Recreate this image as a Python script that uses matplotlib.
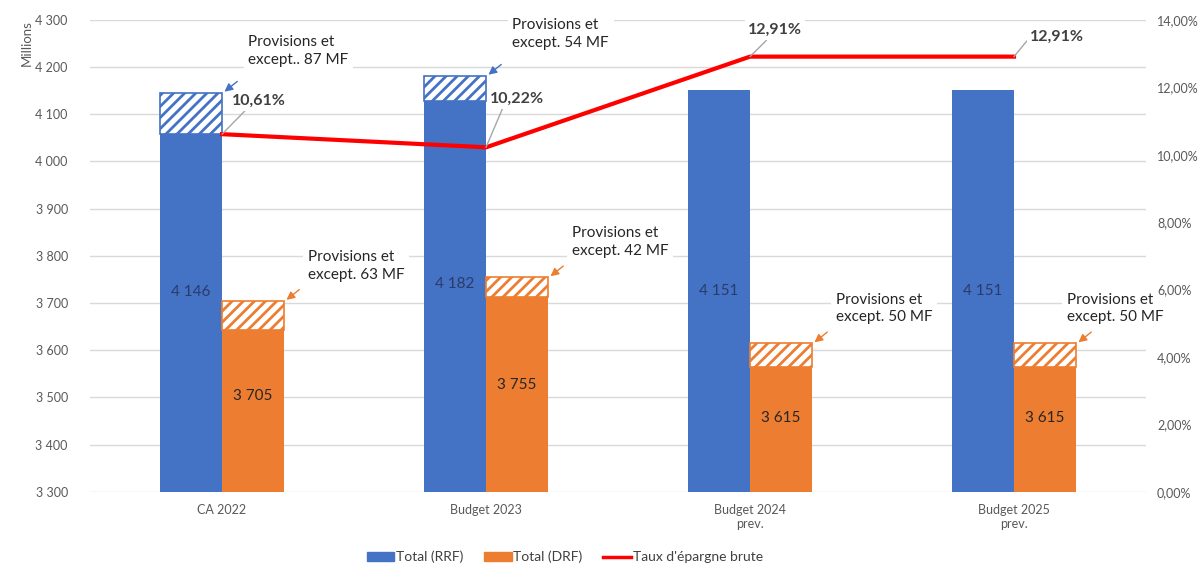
import numpy as np
import matplotlib
matplotlib.use('Agg')
import matplotlib.pyplot as plt
from matplotlib.patches import Patch
from matplotlib.lines import Line2D

plt.rcParams['font.family'] = ['Lato', 'DejaVu Sans']
plt.rcParams['hatch.linewidth'] = 2.0

# data
categories = ['CA 2022', 'Budget 2023', 'Budget 2024\nprev.', 'Budget 2025\nprev.']
rrf_total = [4146, 4182, 4151, 4151]       # Total (RRF), millions
rrf_prov = [87, 54, 0, 0]                  # provisions et except. (hatched part)
drf_total = [3705, 3755, 3615, 3615]       # Total (DRF)
drf_prov = [63, 42, 50, 50]
taux = [10.61, 10.22, 12.91, 12.91]        # taux d'epargne brute, %
rrf_notes = ['Provisions et\nexcept.. 87 MF', 'Provisions et\nexcept. 54 MF', None, None]
drf_notes = ['Provisions et\nexcept. 63 MF', 'Provisions et\nexcept. 42 MF',
             'Provisions et\nexcept. 50 MF', 'Provisions et\nexcept. 50 MF']

blue = '#4472C4'
orange = '#ED7D31'
red = '#FF0000'
grey_txt = '#595959'
base = 3300

fig = plt.figure(figsize=(12.04, 5.68), dpi=100)
ax = fig.add_axes([0.0748, 0.134, 0.877, 0.831])
x = np.arange(len(categories))
w = 0.235

# solid parts
rrf_solid = [t - p for t, p in zip(rrf_total, rrf_prov)]
drf_solid = [t - p for t, p in zip(drf_total, drf_prov)]
ax.bar(x - w / 2, np.array(rrf_solid) - base, w, bottom=base, color=blue, zorder=2)
ax.bar(x + w / 2, np.array(drf_solid) - base, w, bottom=base, color=orange, zorder=2)
# hatched provisions
for i in range(len(x)):
    if rrf_prov[i] > 0:
        ax.bar(x[i] - w / 2, rrf_prov[i], w, bottom=rrf_solid[i], facecolor='white',
               edgecolor=blue, hatch='///', linewidth=1.2, zorder=2)
    if drf_prov[i] > 0:
        ax.bar(x[i] + w / 2, drf_prov[i], w, bottom=drf_solid[i], facecolor='white',
               edgecolor=orange, hatch='///', linewidth=1.2, zorder=2)

# value labels inside bars
for i in range(len(x)):
    ax.text(x[i] - w / 2, (base + rrf_total[i]) / 2, f'{rrf_total[i]:,}'.replace(',', ' '),
            ha='center', va='center', fontsize=11, color='#2B3B6B', zorder=4)
    ax.text(x[i] + w / 2, (base + drf_total[i]) / 2, f'{drf_total[i]:,}'.replace(',', ' '),
            ha='center', va='center', fontsize=11, color='#262626', zorder=4)

# provision notes with small arrows
arrow_kw = dict(arrowstyle='-|>', lw=1, mutation_scale=12, shrinkA=0, shrinkB=1)
for i in range(len(x)):
    if rrf_notes[i]:
        ax.annotate('', xy=(x[i] + 0.005, rrf_total[i]), xytext=(10, 8),
                    textcoords='offset points', arrowprops=dict(color=blue, **arrow_kw), zorder=5)
        ax.annotate(rrf_notes[i], xy=(x[i], rrf_total[i]), xytext=(19, 30),
                    textcoords='offset points', ha='left', va='center', fontsize=11,
                    color='#262626', linespacing=1.35, zorder=5,
                    bbox=dict(boxstyle='square,pad=0.3', fc='white', ec='none'))
    ox = 17 if i < 3 else -6.5
    ax.annotate('', xy=(x[i] + w + 0.005, drf_total[i]), xytext=(10, 8),
                textcoords='offset points', arrowprops=dict(color=orange, **arrow_kw), zorder=5)
    ax.annotate(drf_notes[i], xy=(x[i] + w, drf_total[i]), xytext=(ox, 25),
                textcoords='offset points', ha='left', va='center', fontsize=11,
                color='#262626', linespacing=1.35, zorder=6, annotation_clip=False,
                bbox=dict(boxstyle='square,pad=0.3', fc='white', ec='none'))

ax.set_xlim(-0.5, 3.5)
ax.set_ylim(3300, 4300)
ax.set_yticks(np.arange(3300, 4301, 100))
ax.set_yticklabels([f'{v:,}'.replace(',', ' ') for v in range(3300, 4301, 100)])
ax.set_xticks(x)
ax.set_xticklabels(categories)
ax.yaxis.grid(True, color='#D9D9D9', lw=1, zorder=0)
ax.set_axisbelow(True)
ax.tick_params(axis='both', length=0, labelsize=9, labelcolor=grey_txt)
ax.tick_params(axis='x', pad=9)
ax.tick_params(axis='y', pad=16)
ax.set_ylabel('Millions', loc='top', fontsize=9.5, color=grey_txt, labelpad=2)
for s in ax.spines.values():
    s.set_visible(False)

# rate on right axis
ax2 = ax.twinx()
ax2.plot(x, taux, color=red, lw=3, zorder=3)
ax2.set_ylim(0, 14)
ax2.set_yticks(np.arange(0, 15, 2))
ax2.set_yticklabels([f'{v:.2f}%'.replace('.', ',') for v in range(0, 15, 2)])
ax2.tick_params(axis='y', length=0, labelsize=9, labelcolor=grey_txt, pad=8)
for s in ax2.spines.values():
    s.set_visible(False)

pct_offsets = [(7, 24), (3, 35), (-1.5, 19), (11.5, 14)]
pct_relpos = [(0.3, 0), (0.25, 0), (0.4, 0), (0, 0.5)]
for i in range(len(x)):
    ax2.annotate(f'{taux[i]:.2f}%'.replace('.', ','), xy=(x[i], taux[i]), xytext=pct_offsets[i],
                 textcoords='offset points', ha='left', va='center', fontsize=11.5,
                 fontweight='bold', color='#404040', zorder=6,
                 arrowprops=dict(arrowstyle='-', color='#A6A6A6', lw=1, relpos=pct_relpos[i],
                                 shrinkA=0, shrinkB=0),
                 bbox=dict(boxstyle='square,pad=0.2', fc='white', ec='none'))

handles = [Patch(color=blue), Patch(color=orange), Line2D([], [], color=red, lw=2.5)]
fig.legend(handles, ['Total (RRF)', 'Total (DRF)', "Taux d'épargne brute"], loc='center',
           bbox_to_anchor=(0.469, 0.019), ncol=3, frameon=False, fontsize=10,
           handlelength=2.0, handleheight=0.7, handletextpad=0.1, columnspacing=1.5,
           labelcolor='#404040')

fig.savefig('out.png', dpi=100)
